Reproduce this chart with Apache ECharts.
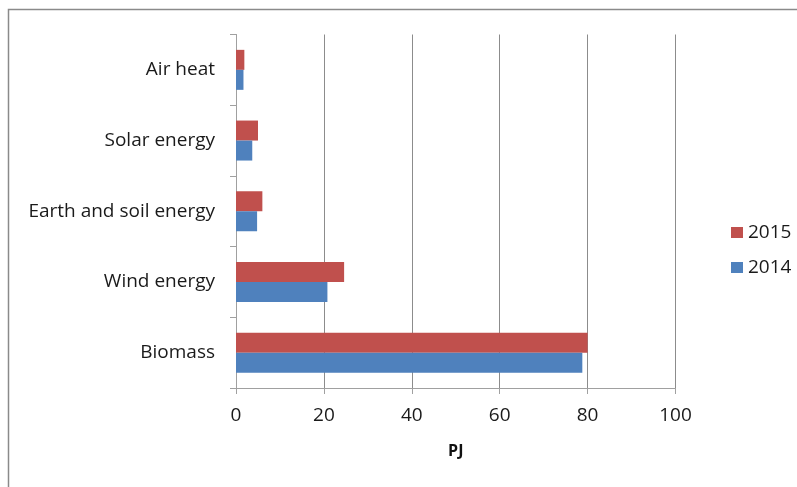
<!DOCTYPE html>
<html>
<head>
<meta charset="utf-8">
<script src="https://cdn.jsdelivr.net/npm/echarts@6/dist/echarts.min.js"></script>
<style>
  html, body { margin: 0; padding: 0; background: #fff; }
  #chart { width: 797px; height: 487px; }
</style>
</head>
<body>
<div id="chart"></div>
<script>
// Renewable energy sources, PJ
const categories = ['Biomass', 'Wind energy', 'Earth and soil energy', 'Solar energy', 'Air heat'];
const values2014 = [78.8, 20.8, 4.8, 3.7, 1.7];
const values2015 = [80.0, 24.6, 6.0, 5.0, 1.9];
const xTicks = [0, 20, 40, 60, 80, 100];

const FONT = '"Open Sans", "Liberation Sans", sans-serif';
const chart = echarts.init(document.getElementById('chart'), null, { renderer: 'canvas' });

chart.setOption({
  animation: false,
  backgroundColor: '#fff',
  graphic: [{
    type: 'rect',
    shape: { x: 8.5, y: 9.5, width: 820, height: 500 },
    style: { fill: 'none', stroke: '#8a8a8a', lineWidth: 1.5 },
    silent: true
  }],
  grid: { left: 236, right: 121.5, top: 34.5, bottom: 99, containLabel: false },
  legend: {
    orient: 'vertical',
    left: 726,
    top: 218,
    itemWidth: 12,
    itemHeight: 11,
    itemGap: 16,
    icon: 'rect',
    data: ['2015', '2014'],
    textStyle: { fontFamily: FONT, fontSize: 19, color: '#1a1a1a', padding: [0, 0, 0, 0] }
  },
  xAxis: {
    type: 'value',
    min: xTicks[0],
    max: xTicks[xTicks.length - 1],
    interval: 20,
    name: 'PJ',
    nameLocation: 'middle',
    nameGap: 55,
    nameTextStyle: { fontFamily: FONT, fontSize: 16, fontWeight: 'bold', color: '#111' },
    axisLine: { show: true, lineStyle: { color: '#a0a0a0', width: 1 } },
    axisTick: { show: true, length: 6, lineStyle: { color: '#a0a0a0' } },
    axisLabel: { fontFamily: FONT, fontSize: 19, color: '#1a1a1a', margin: 18 },
    splitLine: { show: true, lineStyle: { color: '#8c8c8c', width: 1 } }
  },
  yAxis: {
    type: 'category',
    data: categories,
    axisLine: { show: true, lineStyle: { color: '#a0a0a0', width: 1 } },
    axisTick: { show: true, length: 6, alignWithLabel: false, lineStyle: { color: '#a0a0a0' } },
    axisLabel: { fontFamily: FONT, fontSize: 19, color: '#1a1a1a', margin: 21 },
    splitLine: { show: false }
  },
  series: [
    {
      name: '2015',
      type: 'bar',
      data: values2015,
      barWidth: 20,
      barGap: '0%',
      itemStyle: { color: '#C0504D' }
    },
    {
      name: '2014',
      type: 'bar',
      data: values2014,
      barWidth: 20,
      barGap: '0%',
      itemStyle: { color: '#4F81BD' }
    }
  ]
});
</script>
</body>
</html>
